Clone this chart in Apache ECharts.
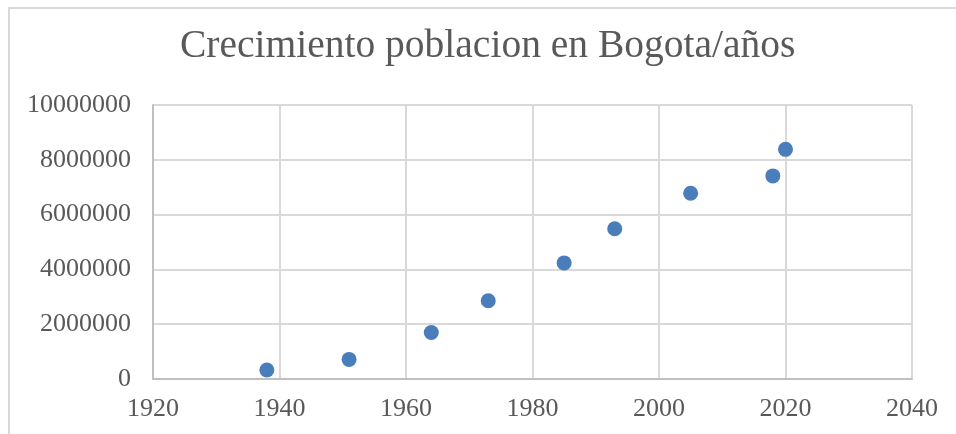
<!DOCTYPE html>
<html>
<head>
<meta charset="utf-8">
<script src="https://cdn.jsdelivr.net/npm/echarts@6/dist/echarts.min.js"></script>
<style>
  html, body { margin: 0; padding: 0; background: #fff; }
  #main { width: 956px; height: 434px; }
</style>
</head>
<body>
<div id="main"></div>
<script>
  // años de censo y poblacion
  var years = [1938, 1951, 1964, 1973, 1985, 1993, 2005, 2018, 2020];
  var population = [330312, 715250, 1697311, 2855065, 4236490, 5484244, 6778691, 7412566, 8380801];

  var titleText = 'Crecimiento poblacion en Bogota/años';
  var serif = '"Liberation Serif", "DejaVu Serif", serif';

  var points = years.map(function (y, i) { return [y, population[i]]; });

  // sin separador de miles
  function plain(v) { return String(v); }

  var myChart = echarts.init(document.getElementById('main'));
  myChart.setOption({
    animation: false,
    backgroundColor: '#fff',
    title: {
      text: titleText,
      left: 175,
      top: 22,
      textStyle: {
        fontFamily: serif,
        fontSize: 39.5,
        fontWeight: 'normal',
        color: '#595959'
      }
    },
    graphic: [{
      type: 'rect',
      shape: { x: 9, y: 8, width: 1000, height: 500 },
      style: { fill: 'none', stroke: '#d9d9d9', lineWidth: 2 },
      silent: true
    }],
    grid: {
      left: 153,
      right: 44,
      top: 105,
      bottom: 55
    },
    xAxis: {
      type: 'value',
      min: 1920,
      max: 2040,
      interval: 20,
      axisLine: { show: true, onZero: false, lineStyle: { color: '#bfbfbf', width: 2 } },
      axisTick: { show: false },
      axisLabel: { fontFamily: serif, fontSize: 26, color: '#595959', margin: 17, formatter: plain },
      splitLine: { show: true, lineStyle: { color: '#d9d9d9', width: 2 } }
    },
    yAxis: {
      type: 'value',
      min: 0,
      max: 10000000,
      interval: 2000000,
      axisLine: { show: true, lineStyle: { color: '#bfbfbf', width: 2 } },
      axisTick: { show: false },
      axisLabel: { fontFamily: serif, fontSize: 26, color: '#595959', margin: 22, formatter: plain },
      splitLine: { show: true, lineStyle: { color: '#d9d9d9', width: 2 } }
    },
    series: [{
      type: 'scatter',
      data: points,
      symbol: 'circle',
      symbolSize: 15,
      itemStyle: { color: '#4a7ebb', opacity: 1 }
    }]
  });
</script>
</body>
</html>
